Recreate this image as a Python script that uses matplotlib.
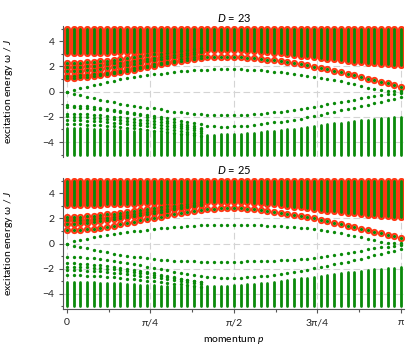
# Excitation spectrum for two bond dimensions D = 23 and D = 25.
import numpy as np
import matplotlib.pyplot as plt

plt.rcParams['font.family'] = ['Lato', 'DejaVu Sans']
plt.rcParams['font.size'] = 7.5
plt.rcParams['mathtext.fontset'] = 'custom'
plt.rcParams['mathtext.rm'] = 'Lato'
plt.rcParams['mathtext.it'] = 'Lato:italic'

green = '#0a8a0a'
red = '#ff3814'

# momentum grid, p = 0 ... pi (51 points)
momentum = np.linspace(0, np.pi, 51)

# continuum edges (lowest / highest levels are cut at +-5)
band_min = -5.0
band_max = 5.0
upper_edge = [3.05, 3.05, 3.06, 3.07, 3.08, 3.09, 3.10, 3.12, 3.13, 3.15,
              3.16, 3.18, 3.19, 3.21, 3.22, 3.24, 3.25, 3.26, 3.27, 3.28,
              3.29, 3.30, 3.30, 3.30, 3.30, 3.29, 3.28, 3.26, 3.23, 3.19,
              3.15, 3.10, 3.04, 2.98, 2.92, 2.86, 2.80, 2.74, 2.68, 2.62,
              2.56, 2.50, 2.44, 2.39, 2.34, 2.29, 2.24, 2.20, 2.16, 2.13, 2.10]

# ---- D = 23 ----
lower_edge_23 = [-2.90, -2.90, -2.91, -2.92, -2.93, -2.95, -2.97, -3.00, -3.03, -3.06,
                 -3.10, -3.14, -3.18, -3.22, -3.26, -3.30, -3.33, -3.36, -3.38, -3.40,
                 -3.41, -3.41, -3.40, -3.39, -3.37, -3.35, -3.32, -3.29, -3.25, -3.21,
                 -3.16, -3.11, -3.06, -3.00, -2.94, -2.87, -2.80, -2.73, -2.66, -2.59,
                 -2.52, -2.45, -2.39, -2.33, -2.27, -2.21, -2.16, -2.11, -2.06, -2.02, -2.00]
g_up_23 = [0.00, 0.15, 0.28, 0.41, 0.53, 0.65, 0.77, 0.88, 0.98, 1.07,
           1.15, 1.23, 1.30, 1.37, 1.44, 1.50, 1.56, 1.61, 1.66, 1.70,
           1.73, 1.75, 1.77, 1.78, 1.78, 1.78, 1.77, 1.76, 1.74, 1.70,
           1.65, 1.60, 1.54, 1.47, 1.40, 1.32, 1.25, 1.17, 1.09, 1.01,
           0.93, 0.82, 0.70, 0.58, 0.45, 0.32, 0.20, 0.10, 0.06, 0.05, 0.05]
g_down_23 = [0.00, -0.18, -0.30, -0.41, -0.52, -0.63, -0.74, -0.84, -0.94, -1.04,
             -1.13, -1.20, -1.27, -1.33, -1.41, -1.50, -1.58, -1.65, -1.71, -1.76,
             -1.80, -1.82, -1.84, -1.85, -1.85, -1.85, -1.84, -1.82, -1.79, -1.75,
             -1.70, -1.64, -1.58, -1.51, -1.45, -1.38, -1.29, -1.20, -1.10, -1.00,
             -0.90, -0.81, -0.72, -0.63, -0.54, -0.45, -0.37, -0.29, -0.22, -0.16, -0.12]
g_low_23 = [-1.08, -1.10, -1.13, -1.17, -1.22, -1.28, -1.35, -1.42, -1.50, -1.58,
            -1.66, -1.75, -1.84, -1.93, -2.02, -2.11, -2.20, -2.30, -2.40, -2.50,
            -2.60, -2.70, -2.76, -2.78, -2.78, -2.76, -2.73, -2.69, -2.64, -2.58,
            -2.51, -2.44, -2.37, -2.29, -2.21, -2.13, -2.03, -1.93, -1.82, -1.71,
            -1.60, -1.49, -1.38, -1.27, -1.16, -1.05, -0.93, -0.81, -0.69, -0.57, -0.45]
red_branch_23 = [1.08, 1.10, 1.13, 1.17, 1.22, 1.29, 1.37, 1.46, 1.56, 1.66,
                 1.76, 1.86, 1.96, 2.06, 2.16, 2.26, 2.36, 2.46, 2.55, 2.63,
                 2.69, 2.73, 2.75, 2.76, 2.76, 2.75, 2.73, 2.70, 2.66, 2.61,
                 2.55, 2.48, 2.41, 2.33, 2.25, 2.17, 2.08, 1.98, 1.88, 1.77,
                 1.66, 1.54, 1.42, 1.29, 1.16, 1.03, 0.91, 0.79, 0.66, 0.53, 0.41]
# short levels near p = 0 that run into the continua (first 21 momenta)
neg_levels_23 = [
    [-1.24, -1.25, -1.27, -1.30, -1.34, -1.39, -1.45, -1.52, -1.60, -1.69, -1.78,
     -1.88, -1.98, -2.09, -2.20, -2.31, -2.42, -2.53, -2.64, -2.75, -2.86],
    [-1.76, -1.77, -1.79, -1.81, -1.84, -1.88, -1.92, -1.97, -2.02, -2.08, -2.14,
     -2.21, -2.28, -2.36, -2.44, -2.52, -2.61, -2.70, -2.79, -2.88, -2.97],
    [-1.96, -1.97, -1.99, -2.02, -2.05, -2.09, -2.14, -2.19, -2.25, -2.31, -2.38,
     -2.45, -2.52, -2.60, -2.68, -2.76, -2.84, -2.92, -3.00, -3.08, -3.16],
    [-2.24, -2.25, -2.27, -2.29, -2.32, -2.36, -2.40, -2.45, -2.50, -2.56, -2.62,
     -2.68, -2.75, -2.82, -2.89, -2.96, -3.03, -3.10, -3.17, -3.24, -3.31],
    [-2.58, -2.59, -2.60, -2.62, -2.65, -2.68, -2.72, -2.76, -2.81, -2.86, -2.91,
     -2.97, -3.03, -3.09, -3.15, -3.21, -3.27, -3.33, -3.39, -3.45, -3.51],
]
pos_levels_23 = [
    [1.24, 1.26, 1.29, 1.33, 1.38, 1.44, 1.51, 1.59, 1.68, 1.77, 1.87,
     1.97, 2.07, 2.17, 2.27, 2.37, 2.47, 2.57, 2.67, 2.77, 2.86],
    [1.62, 1.63, 1.66, 1.70, 1.75, 1.81, 1.88, 1.96, 2.04, 2.13, 2.22,
     2.31, 2.40, 2.49, 2.58, 2.67, 2.76, 2.85, 2.94, 3.03, 3.12],
    [1.96, 1.97, 1.99, 2.02, 2.06, 2.11, 2.17, 2.24, 2.31, 2.39, 2.47,
     2.55, 2.63, 2.71, 2.79, 2.87, 2.95, 3.03, 3.11, 3.19, 3.27],
    [2.26, 2.27, 2.29, 2.32, 2.36, 2.41, 2.47, 2.54, 2.61, 2.68, 2.75,
     2.82, 2.89, 2.96, 3.03, 3.10, 3.17, 3.24, 3.31, 3.38, 3.45],
]

# ---- D = 25 ----
lower_edge_25 = [-3.05, -3.05, -3.06, -3.07, -3.08, -3.10, -3.12, -3.14, -3.17, -3.20,
                 -3.23, -3.26, -3.29, -3.32, -3.34, -3.36, -3.38, -3.39, -3.40, -3.40,
                 -3.40, -3.39, -3.38, -3.36, -3.34, -3.31, -3.28, -3.24, -3.20, -3.15,
                 -3.10, -3.04, -2.98, -2.91, -2.84, -2.77, -2.70, -2.63, -2.56, -2.49,
                 -2.42, -2.36, -2.30, -2.24, -2.18, -2.12, -2.06, -2.01, -1.96, -1.92, -1.89]
g_up_25 = [0.00, 0.17, 0.28, 0.38, 0.48, 0.57, 0.66, 0.74, 0.82, 0.89,
           0.96, 1.02, 1.08, 1.14, 1.20, 1.25, 1.30, 1.34, 1.38, 1.41,
           1.44, 1.46, 1.47, 1.48, 1.48, 1.48, 1.48, 1.47, 1.46, 1.45,
           1.43, 1.41, 1.38, 1.35, 1.31, 1.26, 1.20, 1.13, 1.06, 0.98,
           0.90, 0.81, 0.71, 0.60, 0.48, 0.36, 0.24, 0.14, 0.08, 0.06, 0.05]
g_down_25 = [0.00, -0.17, -0.28, -0.39, -0.50, -0.61, -0.71, -0.80, -0.89, -0.97,
             -1.04, -1.11, -1.17, -1.23, -1.28, -1.33, -1.36, -1.39, -1.41, -1.42,
             -1.43, -1.44, -1.44, -1.44, -1.44, -1.44, -1.43, -1.42, -1.41, -1.40,
             -1.38, -1.36, -1.34, -1.31, -1.28, -1.24, -1.19, -1.13, -1.06, -0.99,
             -0.91, -0.83, -0.74, -0.65, -0.56, -0.47, -0.39, -0.31, -0.24, -0.18, -0.13]
g_low_25 = [-1.04, -1.06, -1.09, -1.13, -1.18, -1.24, -1.31, -1.39, -1.47, -1.56,
            -1.65, -1.74, -1.84, -1.94, -2.04, -2.14, -2.24, -2.34, -2.44, -2.53,
            -2.60, -2.65, -2.69, -2.71, -2.72, -2.72, -2.71, -2.69, -2.65, -2.60,
            -2.54, -2.47, -2.40, -2.32, -2.24, -2.16, -2.07, -1.97, -1.87, -1.76,
            -1.65, -1.54, -1.43, -1.31, -1.19, -1.07, -0.95, -0.83, -0.70, -0.57, -0.45]
red_branch_25 = [1.05, 1.07, 1.10, 1.14, 1.19, 1.26, 1.34, 1.43, 1.53, 1.63,
                 1.73, 1.83, 1.93, 2.03, 2.13, 2.23, 2.33, 2.43, 2.52, 2.60,
                 2.67, 2.72, 2.76, 2.78, 2.79, 2.79, 2.78, 2.76, 2.72, 2.67,
                 2.61, 2.54, 2.46, 2.37, 2.28, 2.19, 2.09, 1.99, 1.88, 1.77,
                 1.66, 1.54, 1.42, 1.30, 1.18, 1.06, 0.94, 0.82, 0.69, 0.57, 0.45]
neg_levels_25 = [
    [-1.57, -1.58, -1.60, -1.63, -1.67, -1.72, -1.78, -1.85, -1.93, -2.01, -2.10,
     -2.19, -2.28, -2.38, -2.48, -2.58, -2.68, -2.78, -2.88, -2.98, -3.08],
    [-1.84, -1.85, -1.87, -1.89, -1.92, -1.96, -2.00, -2.05, -2.11, -2.17, -2.24,
     -2.31, -2.38, -2.46, -2.54, -2.62, -2.70, -2.78, -2.86, -2.94, -3.02],
    [-2.10, -2.11, -2.13, -2.15, -2.18, -2.22, -2.26, -2.31, -2.36, -2.42, -2.48,
     -2.55, -2.62, -2.69, -2.76, -2.83, -2.90, -2.97, -3.04, -3.11, -3.18],
    [-2.50, -2.51, -2.52, -2.54, -2.57, -2.60, -2.64, -2.68, -2.73, -2.78, -2.83,
     -2.89, -2.95, -3.01, -3.07, -3.13, -3.19, -3.25, -3.31, -3.37, -3.43],
]
pos_levels_25 = [
    [1.57, 1.58, 1.61, 1.65, 1.70, 1.76, 1.83, 1.91, 1.99, 2.08, 2.17,
     2.26, 2.35, 2.44, 2.53, 2.62, 2.71, 2.80, 2.89, 2.98, 3.07],
    [1.84, 1.85, 1.87, 1.90, 1.94, 1.99, 2.05, 2.12, 2.19, 2.27, 2.35,
     2.43, 2.51, 2.59, 2.67, 2.75, 2.83, 2.91, 2.99, 3.07, 3.15],
    [2.10, 2.11, 2.13, 2.16, 2.20, 2.25, 2.31, 2.38, 2.45, 2.52, 2.59,
     2.66, 2.73, 2.80, 2.87, 2.94, 3.01, 3.08, 3.15, 3.22, 3.29],
]

panels = [
    ('23', lower_edge_23, g_up_23, g_down_23, g_low_23, red_branch_23, neg_levels_23, pos_levels_23),
    ('25', lower_edge_25, g_up_25, g_down_25, g_low_25, red_branch_25, neg_levels_25, pos_levels_25),
]

xticks = [0, np.pi/4, np.pi/2, 3*np.pi/4, np.pi]
xticklabels = ['0', 'π/4', 'π/2', '3π/4', 'π']

fig = plt.figure(figsize=(4.16, 3.46), dpi=100)
ax_pos = [[0.1526, 0.5457, 0.8197, 0.3786], [0.1526, 0.1069, 0.8197, 0.3786]]

ring = dict(ls='none', marker='o', mfc='none', mec=red, ms=3.8, mew=1.4, zorder=3)
dot = dict(ls='none', marker='o', color=green, ms=2.4, mew=0, zorder=5)

for i, (D, lower_edge, g_up, g_down, g_low, red_branch, neg_levels, pos_levels) in enumerate(panels):
    ax = fig.add_axes(ax_pos[i])

    # upper continuum: red rings under green points
    rc = ax.vlines(momentum, upper_edge, band_max, color=red, lw=5.2, zorder=2)
    rc.set_capstyle('round')
    gc = ax.vlines(momentum, upper_edge, band_max, color=green, lw=2.0, zorder=4)
    gc.set_capstyle('round')
    # lower continuum: green only
    lc = ax.vlines(momentum, band_min, lower_edge, color=green, lw=2.0, zorder=4)
    lc.set_capstyle('round')

    # discrete levels
    ax.plot(momentum, red_branch, **ring)
    ax.plot(momentum, red_branch, **dot)
    for lev in pos_levels:
        ax.plot(momentum[:len(lev)], lev, **ring)
        ax.plot(momentum[:len(lev)], lev, **dot)
    for lev in neg_levels:
        ax.plot(momentum[:len(lev)], lev, **dot)
    ax.plot(momentum, g_up, **dot)
    ax.plot(momentum, g_down, **dot)
    ax.plot(momentum, g_low, **dot)

    ax.set_xlim(-0.033, np.pi + 0.033)
    ax.set_ylim(-5.2, 5.2)
    ax.set_yticks([-4, -2, 0, 2, 4])
    ax.set_yticks([-5, -3, -1, 1, 3, 5], minor=True)
    ax.set_yticklabels(['−4', '−2', '0', '2', '4'])
    ax.set_xticks(xticks)
    ax.set_xticks([np.pi/8, 3*np.pi/8, 5*np.pi/8, 7*np.pi/8], minor=True)
    ax.grid(True, which='major', color='#d4d4d4', ls=(0, (6, 3)), lw=0.8, zorder=0)
    ax.set_axisbelow(True)

    for s in ['top', 'right']:
        ax.spines[s].set_visible(False)
    for s in ['left', 'bottom']:
        ax.spines[s].set_color('#555555')
        ax.spines[s].set_linewidth(0.8)
    ax.tick_params(which='both', colors='#555555', labelcolor='#222222', width=0.8)
    ax.tick_params(which='major', length=3)
    ax.tick_params(which='minor', length=1.8)

    ax.set_title('$D$ = ' + D, fontsize=8, pad=3)
    ax.set_ylabel('excitation energy ω / $J$', labelpad=20)

    if i == 0:
        ax.spines['bottom'].set_visible(False)
        ax.tick_params(axis='x', which='both', bottom=False, labelbottom=False)
    else:
        ax.set_xticklabels(xticklabels)
        ax.set_xlabel('momentum $p$', labelpad=4)

fig.savefig('out.png', dpi=100)
